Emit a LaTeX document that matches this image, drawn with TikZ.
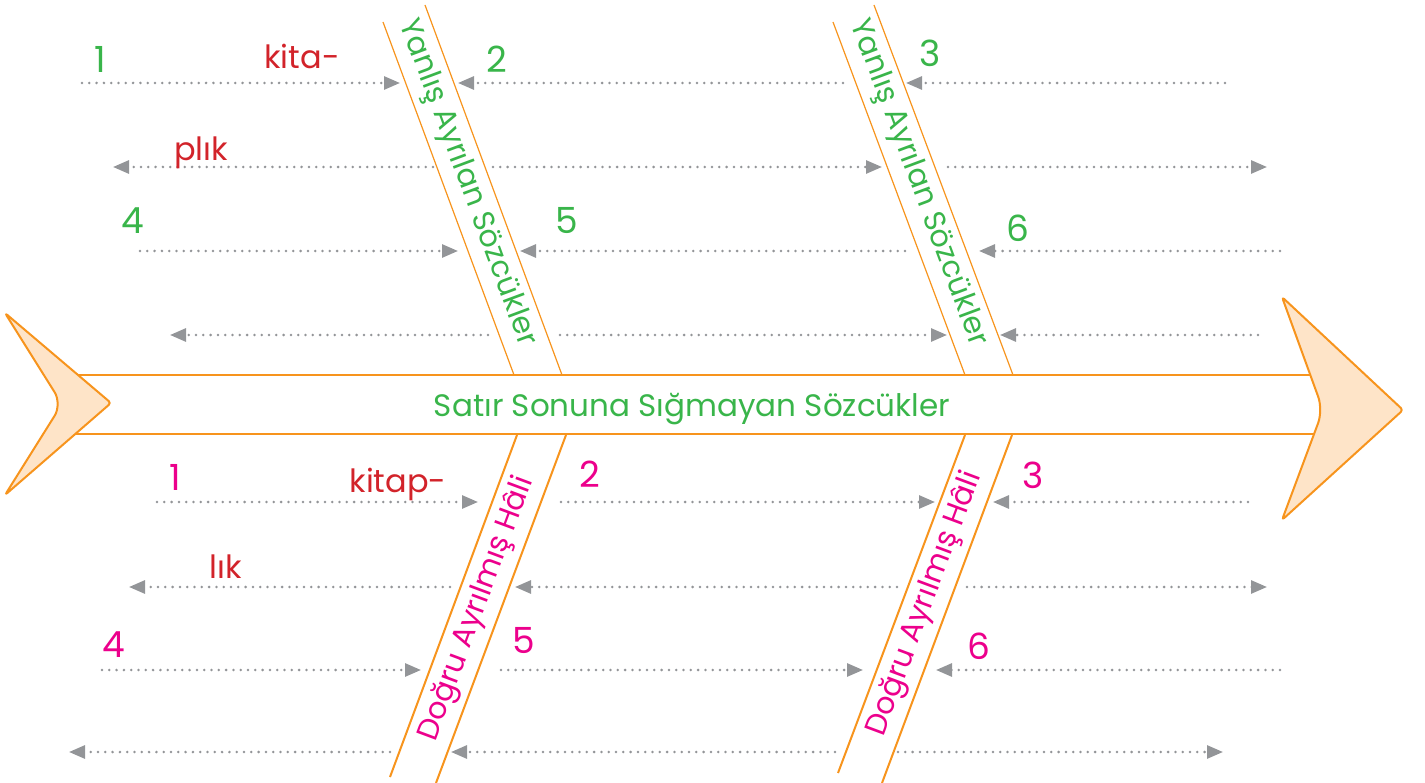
\documentclass[tikz,border=0pt]{standalone}
\usepackage{fontspec}
\setmainfont{Poppins}
\usetikzlibrary{arrows.meta}
\definecolor{orng}{HTML}{F7941D}
\definecolor{orfill}{HTML}{FEE4C8}
\definecolor{grn}{HTML}{39B54A}
\definecolor{mag}{HTML}{EC008C}
\definecolor{redw}{HTML}{D2232A}
\definecolor{dotgray}{HTML}{939598}
\tikzset{
  dotarrow/.style={draw=dotgray, line width=2.8pt, line cap=round, dash pattern=on 0pt off 7.3pt, -{Triangle[length=16pt,width=13pt,fill=dotgray,color=dotgray]}},
  bandline/.style={draw=orng, line width=1.2pt},
  bandlinethick/.style={draw=orng, line width=2pt},
  headshape/.style={draw=orng, fill=orfill, line width=2pt, line join=round},
  numg/.style={text=grn, font=\fontsize{36}{40}\selectfont, anchor=base, inner sep=0pt},
  numm/.style={text=mag, font=\fontsize{36}{40}\selectfont, anchor=base, inner sep=0pt},
  redword/.style={text=redw, font=\fontsize{32}{36}\selectfont, anchor=base, inner sep=0pt},
  diagtext/.style={font=\fontsize{30}{34}\selectfont, inner sep=0pt},
}
\newcommand\darr[4]{\coordinate (#1a) at (#2,#4); \coordinate (#1b) at (#3,#4); \draw[dotarrow] (#1a) -- (#1b);}
\begin{document}
\begin{tikzpicture}[x=1pt,y=-1pt]
\useasboundingbox (0,0) rectangle (1425,783);
% main band
\coordinate (bt1) at (50,375); \coordinate (bt2) at (1320,375);
\coordinate (bb1) at (50,434); \coordinate (bb2) at (1320,434);
\draw[draw=orng, line width=1.5pt] (bt1) -- (bt2);
\draw[draw=orng, line width=1.5pt] (bb1) -- (bb2);
% tail
\draw[headshape] (33.5,358.5) [rounded corners=3pt] -- (5,313) -- (111,403) -- (5,495) [rounded corners=14pt] -- (62,404) [rounded corners=3pt] -- cycle;
% head
\draw[headshape] (1302.5,353.5) [rounded corners=3pt] -- (1282,297) -- (1403,410) -- (1282,520) [rounded corners=14pt] -- (1323,410) [rounded corners=3pt] -- cycle;
\node[text=grn, font=\fontsize{31}{36}\selectfont, anchor=base, inner sep=0pt] (main) at (692,417) {Satır Sonuna Sığmayan Sözcükler};
% upper diagonal bands
\draw[bandline] (383,22) -- (514,375);
\draw[bandline] (425,5) -- (562,375);
\draw[bandline] (833,22) -- (965,375);
\draw[bandline] (874,5) -- (1013,375);
% lower diagonal bands
\draw[bandlinethick] (517,435) -- (390,777);
\draw[bandlinethick] (566,435) -- (436,783);
\draw[bandlinethick] (965,435) -- (838,773);
\draw[bandlinethick] (1012,435) -- (882,783);
% diagonal texts
\node[diagtext, text=grn, rotate=-69.6] (u1) at (467,183) {Yanlış Ayrılan Sözcükler};
\node[diagtext, text=grn, rotate=-69.6] (u2) at (918,183) {Yanlış Ayrılan Sözcükler};
\node[diagtext, text=mag, rotate=69.6] (l1) at (477,609) {Doğru Ayrılmış Hâli};
\node[diagtext, text=mag, rotate=69.6] (l2) at (925,604) {Doğru Ayrılmış Hâli};
% dotted arrows, upper
\darr{r1a}{82}{400}{83}
\darr{r1b}{843}{458}{83}
\darr{r1c}{1225}{906}{83}
\darr{r2a}{433}{113}{167}
\darr{r2b}{493}{882}{167}
\darr{r2c}{948}{1267}{167}
\darr{r3a}{140}{458}{251}
\darr{r3b}{905}{520}{251}
\darr{r3c}{1280}{979}{251}
\darr{r4a}{488}{170}{335}
\darr{r4b}{560}{947}{335}
\darr{r4c}{1258}{1000}{335}
% dotted arrows, lower
\darr{r5a}{157}{478}{502}
\darr{r5b}{561}{935}{502}
\darr{r5c}{1248}{993}{502}
\darr{r6a}{450}{129}{587}
\darr{r6b}{897}{515}{587}
\darr{r6c}{967}{1267}{587}
\darr{r7a}{102}{421}{670}
\darr{r7b}{501}{863}{670}
\darr{r7c}{1280}{936}{670}
\darr{r8a}{390}{69}{752}
\darr{r8b}{835}{451}{752}
\darr{r8c}{898}{1223}{752}
% numbers upper
\node[numg] (g1) at (100,73) {1};
\node[numg] (g2) at (497,73) {2};
\node[numg] (g3) at (930,67) {3};
\node[numg] (g4) at (133,234) {4};
\node[numg] (g5) at (567,234) {5};
\node[numg] (g6) at (1018,242) {6};
% numbers lower
\node[numm] (m1) at (175,490) {1};
\node[numm] (m2) at (590,487) {2};
\node[numm] (m3) at (1033,489) {3};
\node[numm] (m4) at (114,657) {4};
\node[numm] (m5) at (524,653) {5};
\node[numm] (m6) at (979,659) {6};
% red words
\node[redword] (w1) at (302,69) {kita-};
\node[redword] (w2) at (201,161) {plık};
\node[redword] (w3) at (398,493) {kitap-};
\node[redword] (w4) at (226,578) {lık};
\end{tikzpicture}
\end{document}
